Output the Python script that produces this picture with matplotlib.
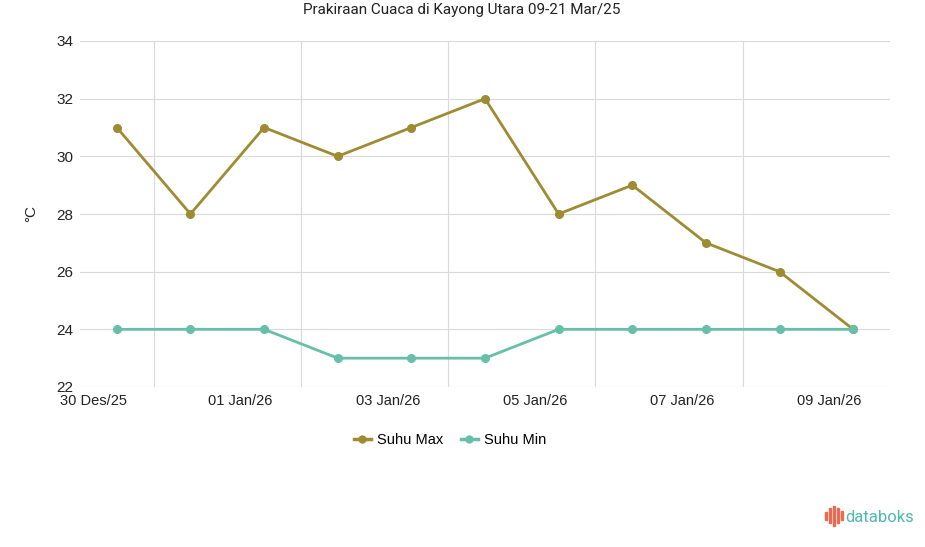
import matplotlib.pyplot as plt
from matplotlib.lines import Line2D
from matplotlib.patches import Rectangle

plt.rcParams['font.family'] = ['Liberation Sans', 'DejaVu Sans']

days = list(range(11))
suhu_max = [31, 28, 31, 30, 31, 32, 28, 29, 27, 26, 24]
suhu_min = [24, 24, 24, 23, 23, 23, 24, 24, 24, 24, 24]
tick_labels = ["30 Des/25", "01 Jan/26", "03 Jan/26", "05 Jan/26", "07 Jan/26", "09 Jan/26"]

col_max = "#9e8b32"
col_min = "#68bfa8"
grid_col = "#dadada"

W, H = 925, 547
fig = plt.figure(figsize=(W / 100, H / 100), dpi=100)
ax = fig.add_axes([80 / W, 1 - 387 / H, (890 - 80) / W, (387 - 41) / H])

ax.plot(days, suhu_max, color=col_max, lw=2.0, marker="o", ms=5.5, label="Suhu Max", zorder=3)
ax.plot(days, suhu_min, color=col_min, lw=2.0, marker="o", ms=5.5, label="Suhu Min", zorder=3)

ax.set_xlim(-0.5, 10.5)
ax.set_ylim(22, 34)
ax.set_yticks(range(22, 35, 2))
for y in range(22, 35, 2):
    ax.axhline(y, color=grid_col, lw=0.8, zorder=1)
for x in [0.5, 2.5, 4.5, 6.5, 8.5]:
    ax.axvline(x, color=grid_col, lw=0.8, zorder=1)

ax.set_xticks([-0.32 + 2 * i for i in range(len(tick_labels))])
ax.set_xticklabels(tick_labels)
ax.tick_params(axis="x", length=0, pad=5, labelsize=10.5, colors="#222222")
ax.tick_params(axis="y", length=0, pad=5, labelsize=11, colors="#222222")
for s in ax.spines.values():
    s.set_visible(False)

ax.set_ylabel("°C", fontsize=11, color="#222222")
ax.yaxis.set_label_coords((38 - 80) / (890 - 80), 0.5)

fig.text(462 / W, 1 - 10 / H, "Prakiraan Cuaca di Kayong Utara 09-21 Mar/25",
         ha="center", va="center", fontsize=11, color="#222222", family=["Roboto", "DejaVu Sans"])

handles = [Line2D([], [], color=col_max, lw=2.5, marker="o", ms=5),
           Line2D([], [], color=col_min, lw=2.5, marker="o", ms=5)]
fig.legend(handles, ["Suhu Max", "Suhu Min"], loc="center", bbox_to_anchor=(450 / W, 1 - 440 / H),
           ncol=2, frameon=False, fontsize=10.5, handlelength=1.2, handletextpad=0.4,
           columnspacing=1.2)

# databoks logo
bars_x = [825, 829, 833, 837, 841]
bars_top = [512, 508, 506, 508, 511]
bars_bot = [520, 523, 526, 523, 520]
for bx, bt, bb in zip(bars_x, bars_top, bars_bot):
    fig.add_artist(Rectangle((bx / W, 1 - bb / H), 1.6 / W, (bb - bt) / H,
                             transform=fig.transFigure, color="#ec6a4f"))
fig.text(845 / W, 1 - 517 / H, "databoks", ha="left", va="center", fontsize=12,
         color="#4fb8b0", family=["Roboto", "DejaVu Sans"])

fig.savefig("out.png", dpi=100)
